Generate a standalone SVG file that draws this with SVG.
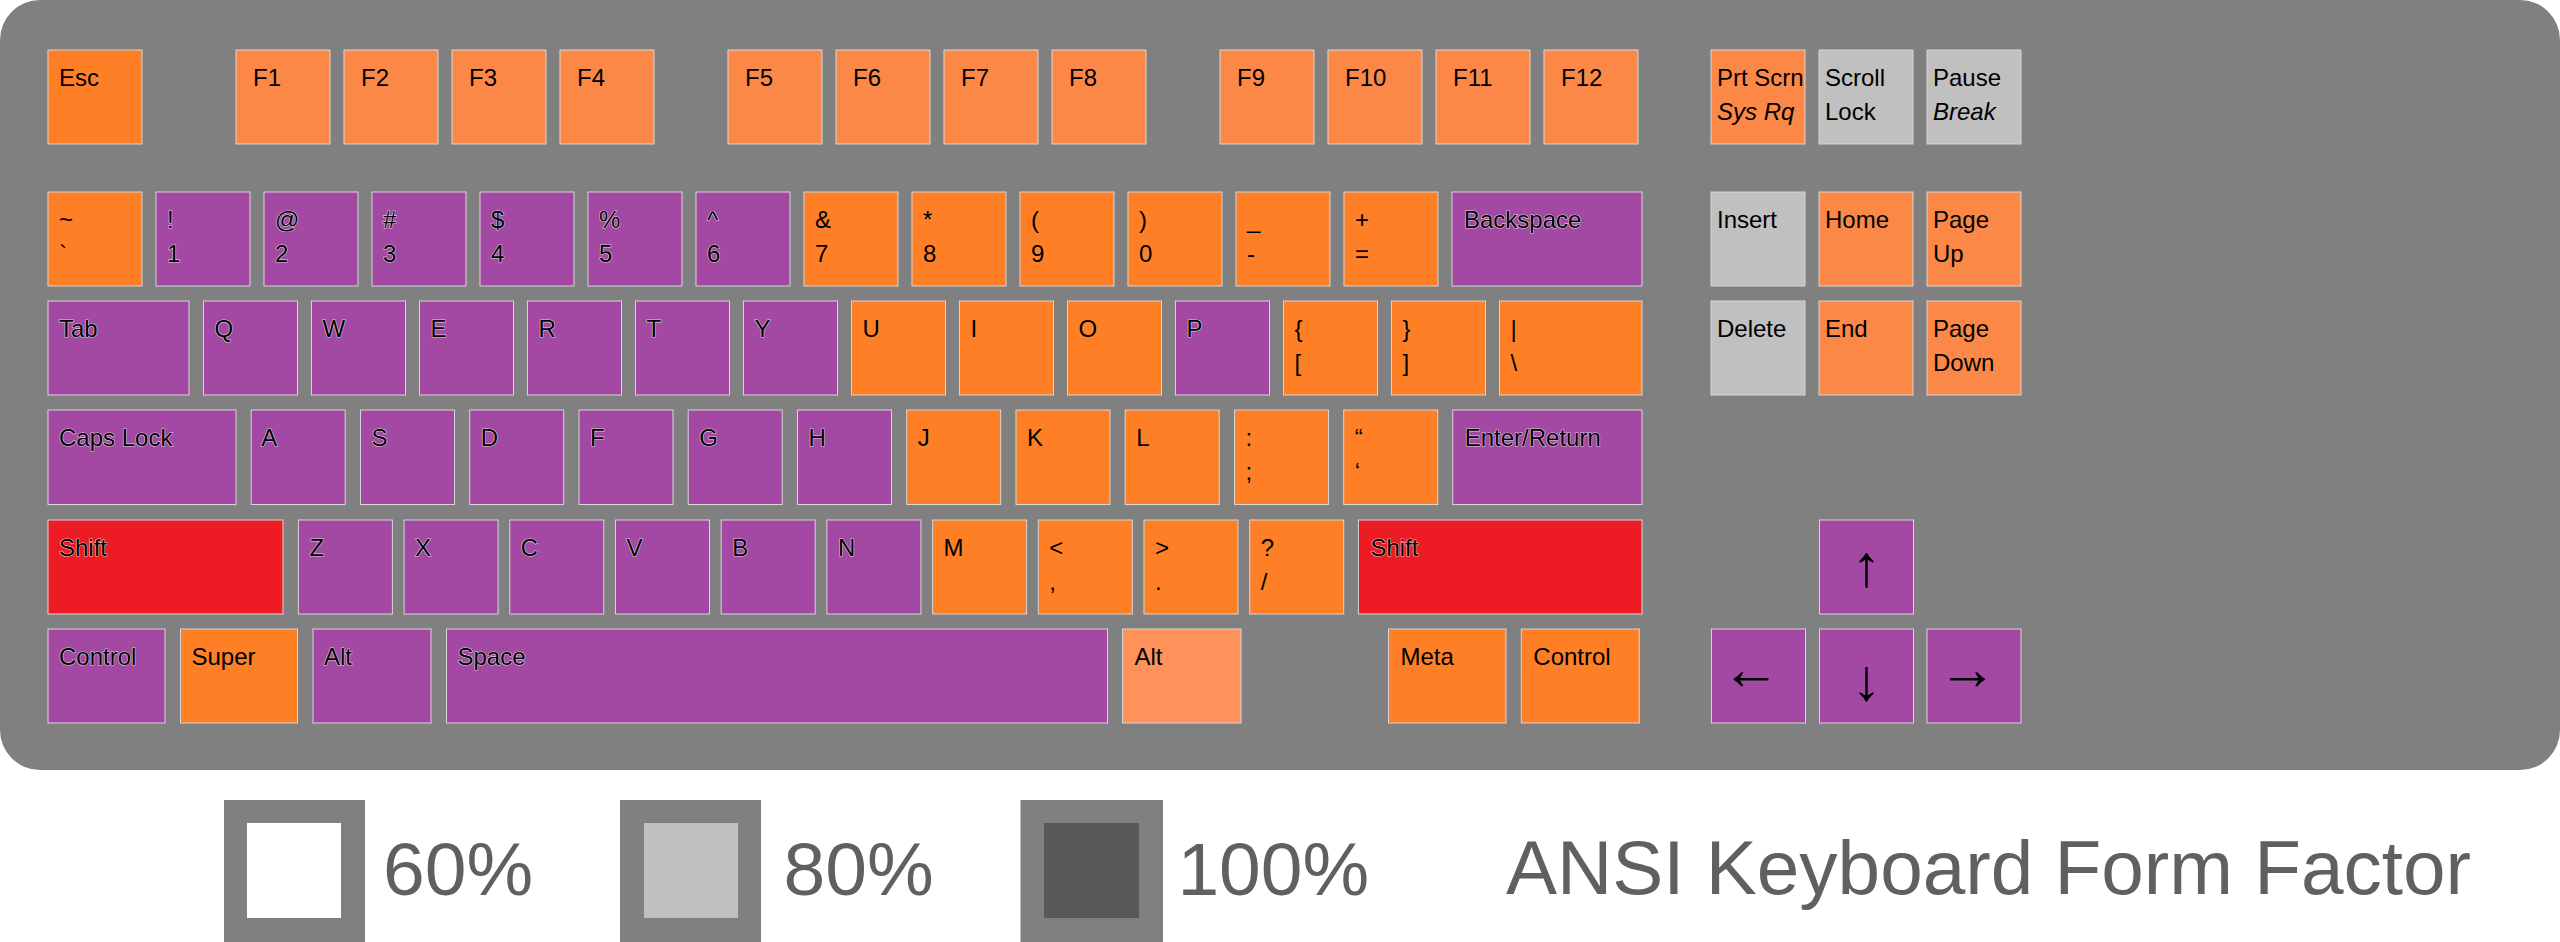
<svg xmlns="http://www.w3.org/2000/svg" width="2560" height="942" viewBox="0 0 2560 942">
<style>
.k{stroke:#d6d6d6;stroke-width:1}
.p{fill:#A349A4}.o{fill:#FF7F27}.lo{fill:#FC8847}.a{fill:#FF915B}.r{fill:#ED1C24}.g{fill:#C0C0C0}
text{font-family:"Liberation Sans",Arial,sans-serif;font-size:24px;fill:#000}
.h{stroke:#fff;stroke-width:1.2px;stroke-opacity:0.7;paint-order:stroke}
.i{font-style:italic}
.ar{font-size:59px;text-anchor:middle}
.lg{font-size:75px;fill:#606060}
.tt{font-size:76.5px}
</style>
<rect x="0" y="0" width="2560" height="770" rx="40" ry="40" fill="#808080"/>
<g id="row-function">
<g id="key-esc"><rect class="k o" x="48" y="50" width="94" height="94"/><text x="59" y="86">Esc</text></g>
<g id="key-f1"><rect class="k lo" x="236" y="50" width="94" height="94"/><text x="253" y="86">F1</text></g>
<g id="key-f2"><rect class="k lo" x="344" y="50" width="94" height="94"/><text x="361" y="86">F2</text></g>
<g id="key-f3"><rect class="k lo" x="452" y="50" width="94" height="94"/><text x="469" y="86">F3</text></g>
<g id="key-f4"><rect class="k lo" x="560" y="50" width="94" height="94"/><text x="577" y="86">F4</text></g>
<g id="key-f5"><rect class="k lo" x="728" y="50" width="94" height="94"/><text x="745" y="86">F5</text></g>
<g id="key-f6"><rect class="k lo" x="836" y="50" width="94" height="94"/><text x="853" y="86">F6</text></g>
<g id="key-f7"><rect class="k lo" x="944" y="50" width="94" height="94"/><text x="961" y="86">F7</text></g>
<g id="key-f8"><rect class="k lo" x="1052" y="50" width="94" height="94"/><text x="1069" y="86">F8</text></g>
<g id="key-f9"><rect class="k lo" x="1220" y="50" width="94" height="94"/><text x="1237" y="86">F9</text></g>
<g id="key-f10"><rect class="k lo" x="1328" y="50" width="94" height="94"/><text x="1345" y="86">F10</text></g>
<g id="key-f11"><rect class="k lo" x="1436" y="50" width="94" height="94"/><text x="1453" y="86">F11</text></g>
<g id="key-f12"><rect class="k lo" x="1544" y="50" width="94" height="94"/><text x="1561" y="86">F12</text></g>
<g id="key-prtscrn"><rect class="k lo" x="1711" y="50" width="94" height="94"/><text x="1717" y="86">Prt Scrn</text><text class="i" x="1717" y="120">Sys Rq</text></g>
<g id="key-scrolllock"><rect class="k g" x="1819" y="50" width="94" height="94"/><text x="1825" y="86">Scroll</text><text x="1825" y="120">Lock</text></g>
<g id="key-pause"><rect class="k g" x="1927" y="50" width="94" height="94"/><text x="1933" y="86">Pause</text><text class="i" x="1933" y="120">Break</text></g>
</g>
<g id="row-number">
<g id="key-tilde"><rect class="k o" x="48" y="192" width="94" height="94"/><text x="59" y="228">~</text><text x="59" y="262">`</text></g>
<g id="key-1"><rect class="k p" x="156" y="192" width="94" height="94"/><text class="h" x="167" y="228">!</text><text class="h" x="167" y="262">1</text></g>
<g id="key-2"><rect class="k p" x="264" y="192" width="94" height="94"/><text class="h" x="275" y="228">@</text><text class="h" x="275" y="262">2</text></g>
<g id="key-3"><rect class="k p" x="372" y="192" width="94" height="94"/><text class="h" x="383" y="228">#</text><text class="h" x="383" y="262">3</text></g>
<g id="key-4"><rect class="k p" x="480" y="192" width="94" height="94"/><text class="h" x="491" y="228">$</text><text class="h" x="491" y="262">4</text></g>
<g id="key-5"><rect class="k p" x="588" y="192" width="94" height="94"/><text class="h" x="599" y="228">%</text><text class="h" x="599" y="262">5</text></g>
<g id="key-6"><rect class="k p" x="696" y="192" width="94" height="94"/><text class="h" x="707" y="228">^</text><text class="h" x="707" y="262">6</text></g>
<g id="key-7"><rect class="k o" x="804" y="192" width="94" height="94"/><text x="815" y="228">&amp;</text><text x="815" y="262">7</text></g>
<g id="key-8"><rect class="k o" x="912" y="192" width="94" height="94"/><text x="923" y="228">*</text><text x="923" y="262">8</text></g>
<g id="key-9"><rect class="k o" x="1020" y="192" width="94" height="94"/><text x="1031" y="228">(</text><text x="1031" y="262">9</text></g>
<g id="key-0"><rect class="k o" x="1128" y="192" width="94" height="94"/><text x="1139" y="228">)</text><text x="1139" y="262">0</text></g>
<g id="key-minus"><rect class="k o" x="1236" y="192" width="94" height="94"/><text x="1247" y="228">_</text><text x="1247" y="262">-</text></g>
<g id="key-equals"><rect class="k o" x="1344" y="192" width="94" height="94"/><text x="1355" y="228">+</text><text x="1355" y="262">=</text></g>
<g id="key-backspace"><rect class="k p" x="1452" y="192" width="190" height="94"/><text class="h" x="1464" y="228">Backspace</text></g>
<g id="key-insert"><rect class="k g" x="1711" y="192" width="94" height="94"/><text x="1717" y="228">Insert</text></g>
<g id="key-home"><rect class="k lo" x="1819" y="192" width="94" height="94"/><text x="1825" y="228">Home</text></g>
<g id="key-pageup"><rect class="k lo" x="1927" y="192" width="94" height="94"/><text x="1933" y="228">Page</text><text x="1933" y="262">Up</text></g>
</g>
<g id="row-top">
<g id="key-tab"><rect class="k p" x="48" y="301" width="141" height="94"/><text class="h" x="59" y="337">Tab</text></g>
<g id="key-q"><rect class="k p" x="203.5" y="301" width="94" height="94"/><text class="h" x="214.5" y="337">Q</text></g>
<g id="key-w"><rect class="k p" x="311.5" y="301" width="94" height="94"/><text class="h" x="322.5" y="337">W</text></g>
<g id="key-e"><rect class="k p" x="419.5" y="301" width="94" height="94"/><text class="h" x="430.5" y="337">E</text></g>
<g id="key-r"><rect class="k p" x="527.5" y="301" width="94" height="94"/><text class="h" x="538.5" y="337">R</text></g>
<g id="key-t"><rect class="k p" x="635.5" y="301" width="94" height="94"/><text class="h" x="646.5" y="337">T</text></g>
<g id="key-y"><rect class="k p" x="743.5" y="301" width="94" height="94"/><text class="h" x="754.5" y="337">Y</text></g>
<g id="key-u"><rect class="k o" x="851.5" y="301" width="94" height="94"/><text x="862.5" y="337">U</text></g>
<g id="key-i"><rect class="k o" x="959.5" y="301" width="94" height="94"/><text x="970.5" y="337">I</text></g>
<g id="key-o"><rect class="k o" x="1067.5" y="301" width="94" height="94"/><text x="1078.5" y="337">O</text></g>
<g id="key-p"><rect class="k p" x="1175.5" y="301" width="94" height="94"/><text class="h" x="1186.5" y="337">P</text></g>
<g id="key-lbracket"><rect class="k o" x="1283.5" y="301" width="94" height="94"/><text x="1294.5" y="337">{</text><text x="1294.5" y="371">[</text></g>
<g id="key-rbracket"><rect class="k o" x="1391.5" y="301" width="94" height="94"/><text x="1402.5" y="337">}</text><text x="1402.5" y="371">]</text></g>
<g id="key-backslash"><rect class="k o" x="1499.5" y="301" width="142.5" height="94"/><text x="1510.5" y="337">|</text><text x="1510.5" y="371">\</text></g>
<g id="key-delete"><rect class="k g" x="1711" y="301" width="94" height="94"/><text x="1717" y="337">Delete</text></g>
<g id="key-end"><rect class="k lo" x="1819" y="301" width="94" height="94"/><text x="1825" y="337">End</text></g>
<g id="key-pagedown"><rect class="k lo" x="1927" y="301" width="94" height="94"/><text x="1933" y="337">Page</text><text x="1933" y="371">Down</text></g>
</g>
<g id="row-home">
<g id="key-capslock"><rect class="k p" x="48" y="410" width="188" height="94.5"/><text class="h" x="59" y="446">Caps Lock</text></g>
<g id="key-a"><rect class="k p" x="251.2" y="410" width="94" height="94.5"/><text class="h" x="261.2" y="446">A</text></g>
<g id="key-s"><rect class="k p" x="360.5" y="410" width="94" height="94.5"/><text class="h" x="371.5" y="446">S</text></g>
<g id="key-d"><rect class="k p" x="469.7" y="410" width="94" height="94.5"/><text class="h" x="480.7" y="446">D</text></g>
<g id="key-f"><rect class="k p" x="579" y="410" width="94" height="94.5"/><text class="h" x="590" y="446">F</text></g>
<g id="key-g"><rect class="k p" x="688.2" y="410" width="94" height="94.5"/><text class="h" x="699.2" y="446">G</text></g>
<g id="key-h"><rect class="k p" x="797.5" y="410" width="94" height="94.5"/><text class="h" x="808.5" y="446">H</text></g>
<g id="key-j"><rect class="k o" x="906.7" y="410" width="94" height="94.5"/><text x="917.7" y="446">J</text></g>
<g id="key-k"><rect class="k o" x="1016" y="410" width="94" height="94.5"/><text x="1027" y="446">K</text></g>
<g id="key-l"><rect class="k o" x="1125.2" y="410" width="94" height="94.5"/><text x="1136.2" y="446">L</text></g>
<g id="key-semicolon"><rect class="k o" x="1234.5" y="410" width="94" height="94.5"/><text x="1245.5" y="446">:</text><text x="1245.5" y="480">;</text></g>
<g id="key-quote"><rect class="k o" x="1343.7" y="410" width="94" height="94.5"/><text x="1354.7" y="446">“</text><text x="1354.7" y="480">‘</text></g>
<g id="key-enter"><rect class="k p" x="1452.7" y="410" width="189.3" height="94.5"/><text class="h" x="1464.7" y="446">Enter/Return</text></g>
</g>
<g id="row-bottom-letters">
<g id="key-lshift"><rect class="k r" x="48" y="520" width="235" height="94"/><text class="h" x="59" y="556">Shift</text></g>
<g id="key-z"><rect class="k p" x="298.4" y="520" width="94" height="94"/><text class="h" x="309.4" y="556">Z</text></g>
<g id="key-x"><rect class="k p" x="404.1" y="520" width="94" height="94"/><text class="h" x="415.1" y="556">X</text></g>
<g id="key-c"><rect class="k p" x="509.8" y="520" width="94" height="94"/><text class="h" x="520.8" y="556">C</text></g>
<g id="key-v"><rect class="k p" x="615.5" y="520" width="94" height="94"/><text class="h" x="626.5" y="556">V</text></g>
<g id="key-b"><rect class="k p" x="721.2" y="520" width="94" height="94"/><text class="h" x="732.2" y="556">B</text></g>
<g id="key-n"><rect class="k p" x="826.9" y="520" width="94" height="94"/><text class="h" x="837.9" y="556">N</text></g>
<g id="key-m"><rect class="k o" x="932.6" y="520" width="94" height="94"/><text x="943.6" y="556">M</text></g>
<g id="key-comma"><rect class="k o" x="1038.3" y="520" width="94" height="94"/><text x="1049.3" y="556">&lt;</text><text x="1049.3" y="590">,</text></g>
<g id="key-period"><rect class="k o" x="1144" y="520" width="94" height="94"/><text x="1155" y="556">&gt;</text><text x="1155" y="590">.</text></g>
<g id="key-slash"><rect class="k o" x="1249.7" y="520" width="94" height="94"/><text x="1260.7" y="556">?</text><text x="1260.7" y="590">/</text></g>
<g id="key-rshift"><rect class="k r" x="1358.4" y="520" width="283.6" height="94"/><text class="h" x="1370.4" y="556">Shift</text></g>
<g id="key-up"><rect class="k p" x="1819.5" y="520" width="94" height="94"/><text class="ar" x="1866.5" y="586">↑</text></g>
</g>
<g id="row-space">
<g id="key-lcontrol"><rect class="k p" x="48" y="629" width="117" height="94"/><text class="h" x="59" y="665">Control</text></g>
<g id="key-super"><rect class="k o" x="180.5" y="629" width="117" height="94"/><text x="191.5" y="665">Super</text></g>
<g id="key-lalt"><rect class="k p" x="313" y="629" width="118" height="94"/><text class="h" x="324" y="665">Alt</text></g>
<g id="key-space"><rect class="k p" x="446.5" y="629" width="661" height="94"/><text class="h" x="457.5" y="665">Space</text></g>
<g id="key-ralt"><rect class="k a" x="1122.5" y="629" width="118.5" height="94"/><text x="1134.5" y="665">Alt</text></g>
<g id="key-meta"><rect class="k o" x="1388.5" y="629" width="117.5" height="94"/><text x="1400.5" y="665">Meta</text></g>
<g id="key-rcontrol"><rect class="k o" x="1521.3" y="629" width="118" height="94"/><text x="1533.3" y="665">Control</text></g>
<g id="key-left"><rect class="k p" x="1711.5" y="629" width="94" height="94"/><text class="ar" x="1751" y="689">←</text></g>
<g id="key-down"><rect class="k p" x="1819.5" y="629" width="94" height="94"/><text class="ar" x="1866.5" y="700">↓</text></g>
<g id="key-right"><rect class="k p" x="1927" y="629" width="94" height="94"/><text class="ar" x="1967.5" y="689">→</text></g>
</g>
<g id="legend">
<g id="legend-60"><rect x="224" y="800" width="141" height="142" fill="#808080"/><rect x="247" y="823" width="94" height="95" fill="#ffffff"/><text class="lg" x="383" y="895">60%</text></g>
<g id="legend-80"><rect x="620" y="800" width="141" height="142" fill="#808080"/><rect x="644" y="823" width="94" height="95" fill="#C0C0C0"/><text class="lg" x="783.5" y="895">80%</text></g>
<g id="legend-100"><rect x="1020.5" y="800" width="142.5" height="142" fill="#808080"/><rect x="1044" y="823" width="95" height="95" fill="#585858"/><text class="lg" x="1177.4" y="895">100%</text></g>
<text id="title" class="lg tt" x="1506" y="894">ANSI Keyboard Form Factor</text>
</g>
</svg>
